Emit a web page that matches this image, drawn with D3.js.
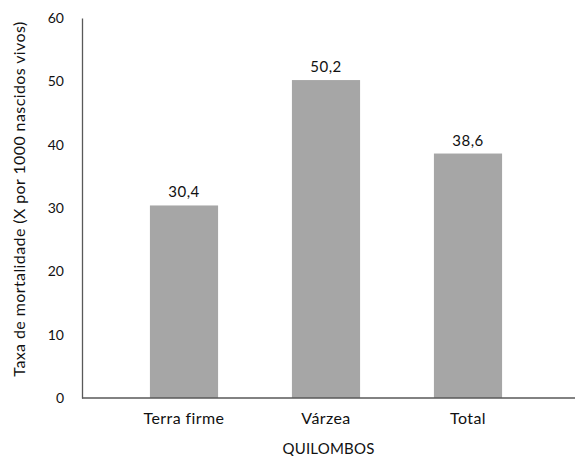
<!DOCTYPE html>
<html>
<head>
<meta charset="utf-8">
<script src="https://cdn.jsdelivr.net/npm/d3@7"></script>
<style>
  body { margin: 0; background: #fff; }
  text { font-family: Lato, "Open Sans", sans-serif; fill: #111; }
</style>
</head>
<body>
<div id="chart"></div>
<script>
// chart data
const categories = ["Terra firme", "Várzea", "Total"];
const values = [30.4, 50.2, 38.6];
const yTicks = [0, 10, 20, 30, 40, 50, 60];
const xTitle = "QUILOMBOS";
const yTitle = "Taxa de mortalidade (X por 1000 nascidos vivos)";

const width = 575, height = 456;
const plot = { left: 82, right: 575, top: 18, bottom: 398 };

// brazilian number format (decimal comma)
const ptBR = d3.formatLocale({ decimal: ",", thousands: ".", grouping: [3], currency: ["R$", ""] });
const fmt = ptBR.format(".1f");

const svg = d3.select("#chart").append("svg")
	.attr("width", width)
	.attr("height", height);

// scales
const x = d3.scaleBand()
	.domain(categories)
	.range([113, 539])
	.paddingInner(0.52)
	.paddingOuter(0.26);

const y = d3.scaleLinear()
	.domain([0, 60])
	.range([plot.bottom, plot.top]);

// bars
svg.selectAll(".bar")
	.data(values)
	.enter().append("rect")
	.attr("class", "bar")
	.attr("x", (d, i) => x(categories[i]))
	.attr("y", d => y(d))
	.attr("width", x.bandwidth())
	.attr("height", d => y(0) - y(d))
	.attr("fill", "#a6a6a6");

// value labels
svg.selectAll(".val")
	.data(values)
	.enter().append("text")
	.attr("class", "val")
	.attr("x", (d, i) => x(categories[i]) + x.bandwidth() / 2)
	.attr("y", d => y(d) - 8)
	.attr("text-anchor", "middle")
	.style("font-size", "15px")
	.style("letter-spacing", "0.5px")
	.text(d => fmt(d));

// y axis
const yAxis = svg.append("g")
	.attr("transform", "translate(" + plot.left + ",0)")
	.call(d3.axisLeft(y).tickValues(yTicks).tickSize(0).tickPadding(18));
yAxis.select(".domain").attr("stroke", "#595959").attr("stroke-width", 1.3);
yAxis.selectAll(".tick text").style("font-size", "14px").attr("fill", "#111");

// x axis
const xAxis = svg.append("g")
	.attr("transform", "translate(0," + plot.bottom + ")")
	.call(d3.axisBottom(x).tickSize(0).tickPadding(15));
xAxis.select(".domain").attr("d", "M" + plot.left + ",0H" + plot.right)
	.attr("stroke", "#595959").attr("stroke-width", 1.3);
xAxis.selectAll(".tick text").style("font-size", "16px").style("letter-spacing", "0.4px").attr("fill", "#111");

// axis titles
svg.append("text")
	.attr("x", (plot.left + plot.right) / 2)
	.attr("y", 454)
	.attr("text-anchor", "middle")
	.style("font-size", "15px")
	.style("letter-spacing", "0.2px")
	.text(xTitle);

svg.append("text")
	.attr("transform", "translate(25,199) rotate(-90)")
	.attr("text-anchor", "middle")
	.style("font-size", "16px")
	.style("letter-spacing", "0.4px")
	.text(yTitle);
</script>
</body>
</html>
